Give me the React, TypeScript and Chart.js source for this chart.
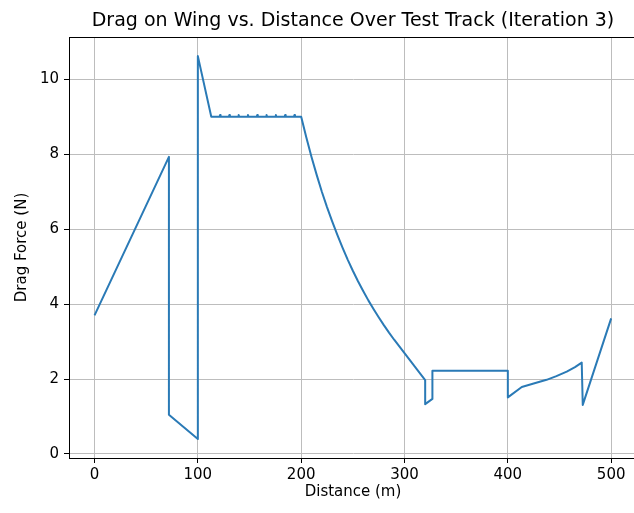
import React, { useEffect, useRef } from "react";
import { Chart, registerables } from "chart.js";

Chart.register(...registerables);

// Data (distance in m, drag in N)
const distance: number[] = [
  0, 72, 72, 100, 100, 113,
  121, 121.5, 122, 130, 130.5, 131, 139, 139.5, 140, 148, 148.5, 149,
  157, 157.5, 158, 166, 166.5, 167, 175, 175.5, 176, 184, 184.5, 185,
  193, 193.5, 194, 200,
  205, 210, 215, 220, 225, 230, 235, 240, 245, 250, 255, 260, 265, 270,
  275, 280, 285, 290, 295, 300, 305, 310, 315, 320,
  320, 327, 327, 400, 400, 413.5, 425, 437.5, 447, 457, 465, 471.5, 472.5, 500,
];
const dragForce: number[] = [
  3.7, 7.93, 1.05, 0.4, 10.62, 9.0,
  9.0, 9.05, 9.0, 9.0, 9.05, 9.0, 9.0, 9.05, 9.0, 9.0, 9.05, 9.0,
  9.0, 9.05, 9.0, 9.0, 9.05, 9.0, 9.0, 9.05, 9.0, 9.0, 9.05, 9.0,
  9.0, 9.05, 9.0, 9.0,
  8.45, 7.93, 7.45, 7.0, 6.59, 6.21, 5.85, 5.51, 5.19, 4.89, 4.61, 4.35, 4.1, 3.87,
  3.65, 3.44, 3.24, 3.05, 2.87, 2.69, 2.51, 2.33, 2.15, 1.97,
  1.33, 1.47, 2.22, 2.22, 1.51, 1.79, 1.88, 1.98, 2.08, 2.2, 2.32, 2.44, 1.31, 3.62,
];

const xTickStep = 100;
const yTickStep = 2;
const titleText = "Drag on Wing vs. Distance Over Test Track (Iteration 3)";
const xLabel = "Distance (m)";
const yLabel = "Drag Force (N)";

const W = 650;
const H = 513;
const FONT = "'DejaVu Sans', sans-serif";

export default function App() {
  const ref = useRef<HTMLCanvasElement | null>(null);

  useEffect(() => {
    if (!ref.current) return;
    const framePlugin = {
      id: "frame",
      afterDraw(chart: any) {
        const { ctx, chartArea: a } = chart;
        ctx.save();
        ctx.strokeStyle = "#000";
        ctx.lineWidth = 1;
        ctx.strokeRect(Math.round(a.left) + 0.5, Math.round(a.top) + 0.5, Math.round(a.right - a.left), Math.round(a.bottom - a.top));
        ctx.fillStyle = "#000";
        ctx.font = `19px ${FONT}`;
        ctx.textAlign = "center";
        ctx.textBaseline = "middle";
        ctx.fillText(titleText, (a.left + a.right) / 2, 21);
        ctx.restore();
      },
    };

    const chart = new Chart(ref.current, {
      type: "line",
      data: {
        datasets: [
          {
            data: distance.map((x, i) => ({ x, y: dragForce[i] })),
            borderColor: "#2a7ab6",
            borderWidth: 2,
            pointRadius: 0,
            tension: 0,
            borderJoinStyle: "round",
            fill: false,
          },
        ],
      },
      options: {
        animation: false,
        responsive: false,
        maintainAspectRatio: false,
        layout: { padding: { top: 37, left: 0, right: W - 637, bottom: 12 } },
        plugins: { legend: { display: false }, title: { display: false }, tooltip: { enabled: false } },
        scales: {
          x: {
            type: "linear",
            min: -24.7,
            max: 525,
            afterFit(scale: any) {
              scale.height = 43;
            },
            ticks: {
              stepSize: xTickStep,
              includeBounds: false,
              color: "#000",
              font: { family: FONT, size: 15 },
              padding: 3,
              maxRotation: 0,
            },
            grid: { color: "#bdbdbd", lineWidth: 1, tickColor: "#000", tickLength: 5, tickWidth: 1 },
            border: { display: true, color: "#000", width: 1 },
            title: { display: true, text: xLabel, color: "#000", font: { family: FONT, size: 15 }, padding: { top: 2, bottom: 0 } },
          },
          y: {
            type: "linear",
            min: -0.107,
            max: 11.13,
            afterFit(scale: any) {
              scale.width = 69;
            },
            ticks: {
              stepSize: yTickStep,
              includeBounds: false,
              color: "#000",
              font: { family: FONT, size: 15 },
              padding: 5,
            },
            grid: { color: "#bdbdbd", lineWidth: 1, tickColor: "#000", tickLength: 5, tickWidth: 1 },
            border: { display: true, color: "#000", width: 1 },
            title: { display: true, text: yLabel, color: "#000", font: { family: FONT, size: 15 }, padding: { top: 13, bottom: 0 } },
          },
        },
      },
      plugins: [framePlugin],
    } as any);
    return () => chart.destroy();
  }, []);

  return (
    <div style={{ position: "fixed", left: 0, top: 0, width: 634, height: 513, overflow: "hidden", background: "#fff" }}>
      <canvas ref={ref} width={W} height={H} style={{ width: W, height: H, display: "block" }} />
    </div>
  );
}
